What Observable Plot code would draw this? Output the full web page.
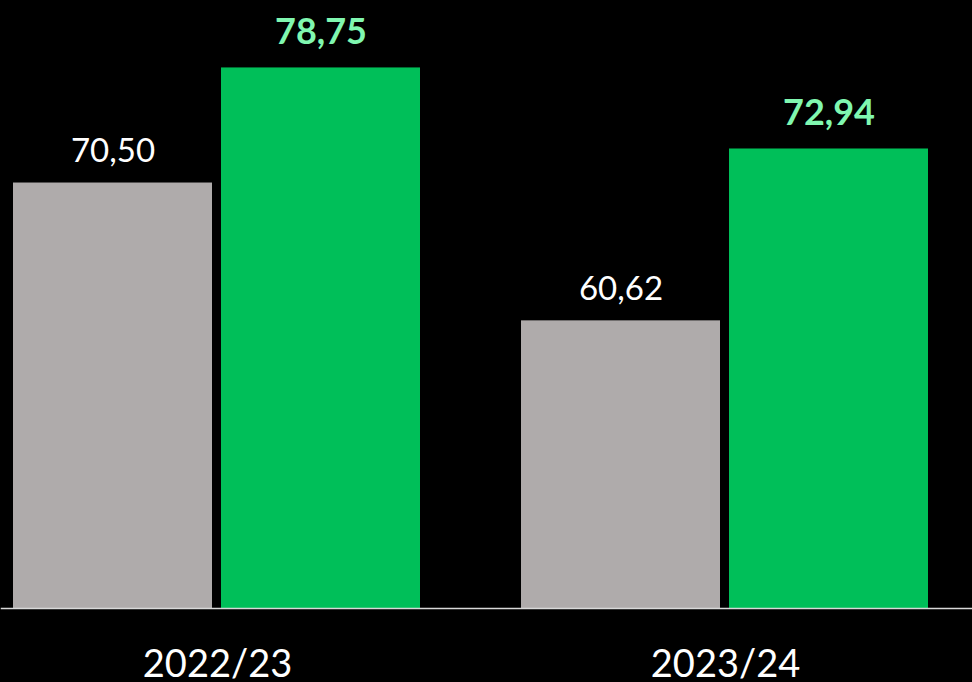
<!DOCTYPE html>
<html><head><meta charset="utf-8">
<script src="https://cdn.jsdelivr.net/npm/d3@7"></script>
<script src="https://cdn.jsdelivr.net/npm/@observablehq/plot@0.6"></script>
<style>html,body{margin:0;padding:0;background:#000;}</style>
</head><body><div id="chart"></div>
<script>
const seasons = ["2022/23", "2023/24"];
const seriesNames = ["previous", "current"];
const previousValues = [70.50, 60.62];
const currentValues = [78.75, 72.94];
const baseline = 40;

const rows = seasons.flatMap((s, i) => [
  {season: s, series: seriesNames[0], value: previousValues[i]},
  {season: s, series: seriesNames[1], value: currentValues[i]}
]);
const fmt = d => d.value.toFixed(2).replace(".", ",");

const chart = Plot.plot({
  width: 972, height: 682,
  marginTop: 50, marginBottom: 74, marginLeft: 0, marginRight: 0,
  style: {background: "#000", color: "#fff", fontFamily: "Lato, sans-serif", fontSize: "38px"},
  fx: {domain: seasons, paddingInner: 0.09037, paddingOuter: 0, axis: null},
  x: {domain: seriesNames, paddingInner: 0.04306, paddingOuter: 0.1292, align: 0.2222, axis: null},
  y: {domain: [baseline, 80], axis: null},
  color: {domain: seriesNames, range: ["#afabab", "#00bf59"]},
  marks: [
    Plot.barY(rows, {fx: "season", x: "series", y1: baseline, y2: "value", fill: "series"}),
    Plot.frame({facet: "super", anchor: "bottom", stroke: "#d9d9d9", strokeWidth: 1.5}),
    Plot.axisFx({anchor: "bottom", tickSize: 0, tickPadding: 42, label: null, dx: -15, fontSize: 38, fill: "#ffffff"}),
    Plot.text(rows.filter(d => d.series === seriesNames[0]), {fx: "season", x: "series", y: "value", text: fmt, dy: -21, lineAnchor: "bottom", fill: "#ffffff", fontSize: 33}),
    Plot.text(rows.filter(d => d.series === seriesNames[1]), {fx: "season", x: "series", y: "value", text: fmt, dy: -24, lineAnchor: "bottom", fill: "#80f7b0", fontSize: 36, fontWeight: "bold"})
  ]
});
document.getElementById("chart").append(chart);
</script>
</body></html>
